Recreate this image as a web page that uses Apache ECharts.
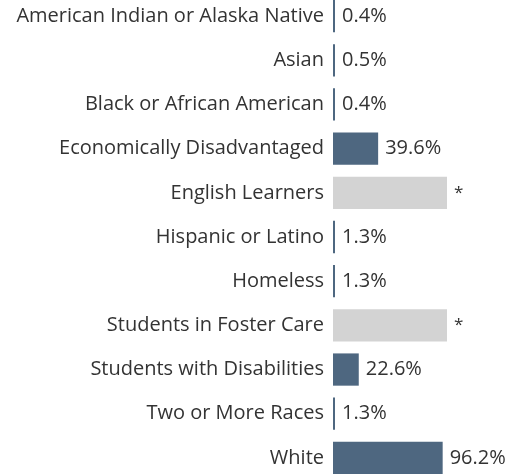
<!DOCTYPE html>
<html lang="en">
	<head>
		<meta charset="utf-8" />
		<title>Student Groups</title>
		<style>
			html, body { margin: 0; padding: 0; background: #fff; }
			#chart { width: 512px; height: 474px; }
		</style>
	</head>
	<body>
		<div id="chart"></div>
		<script src="https://cdn.jsdelivr.net/npm/echarts@6/dist/echarts.min.js"></script>
		<script type="text/javascript">
			const categories = [
				'American Indian or Alaska Native',
				'Asian',
				'Black or African American',
				'Economically Disadvantaged',
				'English Learners',
				'Hispanic or Latino',
				'Homeless',
				'Students in Foster Care',
				'Students with Disabilities',
				'Two or More Races',
				'White',
			];
			// null = suppressed (shown as grey full bar with *)
			const values = [0.4, 0.5, 0.4, 39.6, null, 1.3, 1.3, null, 22.6, 1.3, 96.2];
			const suppressedValue = 100;

			const barColor = '#4e6780';
			const greyColor = '#d3d3d3';
			const font = 'Open Sans';

			const data = values.map((v) => {
				if (v === null) {
					return {
						value: suppressedValue,
						itemStyle: { color: greyColor },
						label: { formatter: '*', fontSize: 17 },
					};
				}
				return { value: v };
			});

			const chart = echarts.init(document.getElementById('chart'));
			chart.setOption({
				animation: false,
				grid: { left: 333, top: -6, width: 114, height: 486, outerBoundsMode: 'none' },
				xAxis: {
					type: 'value',
					min: 0,
					max: 100,
					show: false,
				},
				yAxis: {
					type: 'category',
					data: categories,
					inverse: true,
					axisLine: { show: false },
					axisTick: { show: false },
					axisLabel: {
						margin: 9,
						color: '#333',
						fontFamily: font,
						fontSize: 20,
					},
				},
				series: [
					{
						type: 'bar',
						data,
						barCategoryGap: '27%',
						barMinHeight: 2,
						itemStyle: { color: barColor },
						label: {
							show: true,
							position: 'right',
							distance: 7,
							color: '#333',
							fontFamily: font,
							fontSize: 20,
							formatter: (p) => p.value + '%',
						},
					},
				],
			});
		</script>
	</body>
</html>
